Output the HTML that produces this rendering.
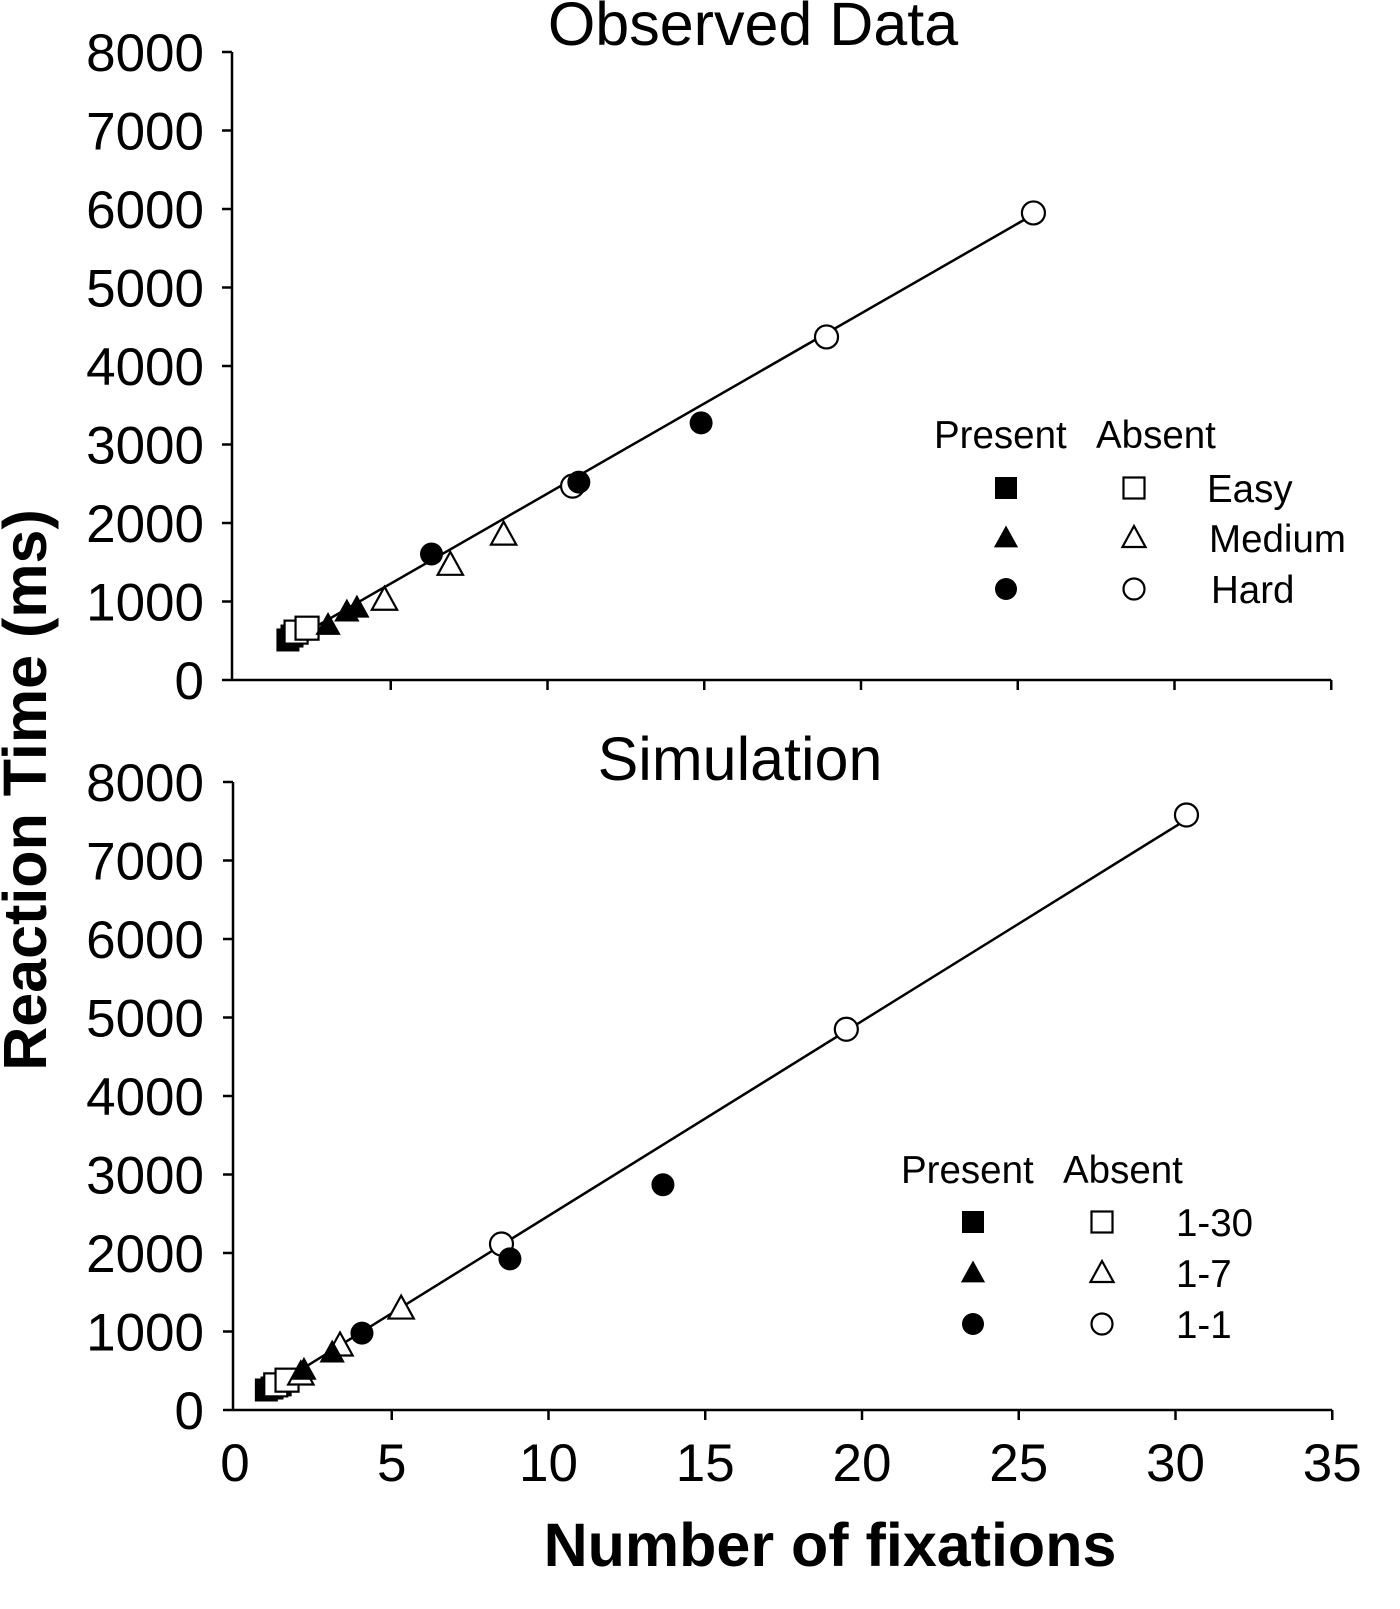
<!DOCTYPE html>
<html><head><meta charset="utf-8"><style>
html,body{margin:0;padding:0;background:#fff;}
svg{display:block;font-family:"Liberation Sans",Arial,sans-serif;}
</style></head><body>
<svg id="chart" width="1400" height="1609" viewBox="0 0 1400 1609" xmlns="http://www.w3.org/2000/svg"></svg>
<script>
// ---- Data ----
const xTicks = [0,5,10,15,20,25,30,35];
const yTicks = [0,1000,2000,3000,4000,5000,6000,7000,8000];

// Observed panel
const obsPresentEasyX = [1.72,1.85];   const obsPresentEasyY = [510,560];
const obsAbsentEasyX = [1.98,2.33];    const obsAbsentEasyY = [610,660];
const obsPresentMedX = [3.0,3.6,3.92]; const obsPresentMedY = [700,870,920];
const obsAbsentMedX = [4.8,6.9,8.6];   const obsAbsentMedY = [1020,1465,1850];
const obsPresentHardX = [6.3,11.0,14.9]; const obsPresentHardY = [1605,2520,3275];
const obsAbsentHardX = [10.8,18.9,25.5]; const obsAbsentHardY = [2470,4370,5950];
const obsFitX = [1.65,25.5]; const obsFitY = [460,5930];

// Simulation panel
const simPresentEasyX = [1.0,1.18,1.44]; const simPresentEasyY = [255,280,320];
const simAbsentEasyX = [1.3,1.66];       const simAbsentEasyY = [320,380];
const simPresentMedX = [2.2,3.1];        const simPresentMedY = [510,730];
const simAbsentMedX = [2.1,3.35,5.3];    const simAbsentMedY = [450,820,1290];
const simPresentHardX = [4.05,8.77,13.65]; const simPresentHardY = [980,1925,2870];
const simAbsentHardX = [8.5,19.5,30.35];   const simAbsentHardY = [2115,4850,7580];
const simFitX = [1.0,30.1]; const simFitY = [240,7460];

const NS = "http://www.w3.org/2000/svg";
const svg = document.getElementById('chart');
function mk(tag, attrs, parent){
  const e = document.createElementNS(NS, tag);
  for (const k in attrs) e.setAttribute(k, attrs[k]);
  (parent||svg).appendChild(e);
  return e;
}
function txt(s, attrs, parent){ const e = mk('text', attrs, parent); e.textContent = s; return e; }

function marker(g, shape, filled, cx, cy, s){
  const fill = filled ? '#000' : '#fff';
  const sw = filled ? 0 : 2.2;
  let e;
  if (shape === 'square') {
    e = mk('rect',{x:cx-s/2,y:cy-s/2,width:s,height:s,fill:fill,stroke:'#000','stroke-width':sw},g);
  } else if (shape === 'triangle') {
    const h = s*0.95;
    e = mk('polygon',{points:`${cx},${cy-h*0.6} ${cx+s*0.55},${cy+h*0.45} ${cx-s*0.55},${cy+h*0.45}`,fill:fill,stroke:'#000','stroke-width':sw,'stroke-linejoin':'miter'},g);
  } else {
    e = mk('circle',{cx:cx,cy:cy,r:s/2,fill:fill,stroke:'#000','stroke-width':sw},g);
  }
  return e;
}

function panel(name, title, titleX, titleY, y0, x0, series, fit, showXLabels, legend){
  const g = mk('g',{});
  
  
  const xs = v => x0 + v*31.35;
  const ys = v => y0 - v*0.0785;
  const t = txt(title,{x:titleX,y:titleY,'font-size':61,'text-anchor':'middle',fill:'#000'},g);
  
  
  const ya = mk('line',{x1:x0-2,y1:ys(8000),x2:x0-2,y2:y0,stroke:'#000','stroke-width':2.5},g);
  
  
  const xa = mk('line',{x1:x0-2,y1:y0,x2:xs(35),y2:y0,stroke:'#000','stroke-width':2.5},g);
  
  
  yTicks.forEach(v=>{
    mk('line',{x1:x0-12,y1:ys(v),x2:x0-2,y2:ys(v),stroke:'#000','stroke-width':2.5},g);
    const l = txt(String(v),{x:204,y:ys(v)+19,'font-size':53,'text-anchor':'end',fill:'#000'},g);
    
    
  });
  xTicks.forEach(v=>{
    if (v>0) mk('line',{x1:xs(v),y1:y0,x2:xs(v),y2:y0+10,stroke:'#000','stroke-width':2.5},g);
    if (showXLabels){
      const l = txt(String(v),{x:xs(v),y:y0+71,'font-size':53,'text-anchor':'middle',fill:'#000'},g);
      
      
    }
  });
  const fl = mk('line',{x1:xs(fit[0][0]),y1:ys(fit[1][0]),x2:xs(fit[0][1]),y2:ys(fit[1][1]),stroke:'#000','stroke-width':2.5},g);
  
  
  series.forEach(s=>{
    s.x.forEach((xv,i)=>{
      const m = marker(g, s.shape, s.filled, xs(xv), ys(s.y[i]), 23);
      
      
    });
  });
  const lg = mk('g',{},g);
  
  
  txt('Present',{x:legend.px,y:legend.hy,'font-size':38.5,fill:'#000'},lg);
  txt('Absent',{x:legend.ax,y:legend.hy,'font-size':38.5,fill:'#000'},lg);
  const shapes=['square','triangle','circle'];
  shapes.forEach((sh,i)=>{
    const cy = legend.ry[i];
    marker(lg, sh, true, legend.m1, cy, 22);
    marker(lg, sh, false, legend.m2, cy, 21);
    const l = txt(legend.labels[i],{x:legend.lx[i],y:cy+14,'font-size':38.5,fill:'#000'},lg);
    
    
  });
}

function S(label,shape,filled,x,y){return {label,shape,filled,x,y};}

panel('observed-panel','Observed Data',753,45,680,234,[
  S('present-easy','square',true,obsPresentEasyX,obsPresentEasyY),
  S('absent-easy','square',false,obsAbsentEasyX,obsAbsentEasyY),
  S('present-medium','triangle',true,obsPresentMedX,obsPresentMedY),
  S('absent-medium','triangle',false,obsAbsentMedX,obsAbsentMedY),
  S('absent-hard','circle',false,obsAbsentHardX,obsAbsentHardY),
  S('present-hard','circle',true,obsPresentHardX,obsPresentHardY)
],[obsFitX,obsFitY],false,
{px:934,ax:1096,hy:448,m1:1006,m2:1134,ry:[488,538,589],labels:['Easy','Medium','Hard'],lx:[1207,1209,1211]});

panel('simulation-panel','Simulation',740,780,1410,235,[
  S('present-1-30','square',true,simPresentEasyX,simPresentEasyY),
  S('absent-1-30','square',false,simAbsentEasyX,simAbsentEasyY),
  S('absent-1-7','triangle',false,simAbsentMedX,simAbsentMedY),
  S('present-1-7','triangle',true,simPresentMedX,simPresentMedY),
  S('absent-1-1','circle',false,simAbsentHardX,simAbsentHardY),
  S('present-1-1','circle',true,simPresentHardX,simPresentHardY)
],[simFitX,simFitY],true,
{px:901,ax:1063,hy:1183,m1:973,m2:1102,ry:[1222,1273,1324],labels:['1-30','1-7','1-1'],lx:[1176,1176,1176]});

const yt = txt('Reaction Time (ms)',{x:0,y:0,'font-size':61,'font-weight':'bold','text-anchor':'middle',fill:'#000',transform:'translate(46,790) rotate(-90)'});


const xt = txt('Number of fixations',{x:830,y:1566,'font-size':61,'font-weight':'bold','text-anchor':'middle',fill:'#000'});


</script>
</body></html>
